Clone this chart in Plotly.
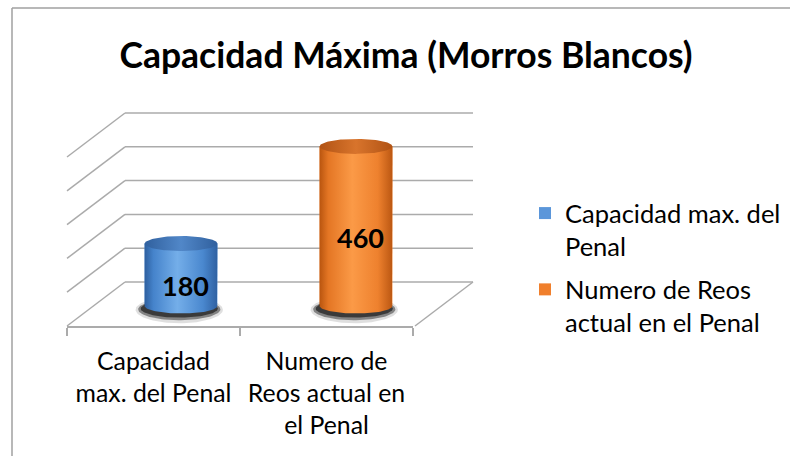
import numpy as np
import plotly.graph_objects as go

# ---------------- data ----------------
categories = ["Capacidad max. del Penal", "Numero de Reos actual en el Penal"]
axis_labels = ["Capacidad<br>max. del Penal", "Numero de<br>Reos actual en<br>el Penal"]
legend_names = ["Capacidad max. del<br>Penal", "Numero de Reos<br>actual en el Penal"]
values = [180, 460]
grid_ticks = [0, 100, 200, 300, 400, 500]
title_text = "Capacidad Máxima (Morros Blancos)"

# ---------------- style ----------------
FONT = "Lato"
W, H = 790, 456
GRID = "#ababab"
body_scales = [
    [[0, "#2d5f9f"], [0.12, "#4583cb"], [0.45, "#74aee9"], [0.8, "#4a88cf"], [1, "#2f61a2"]],
    [[0, "#b9550f"], [0.12, "#e47624"], [0.45, "#fb9a47"], [0.8, "#ee812e"], [1, "#bb5712"]],
]
top_scales = [
    [[0, "#30609e"], [0.5, "#5187c8"], [1, "#30609e"]],
    [[0, "#b15314"], [0.5, "#d8742c"], [1, "#b15314"]],
]
legend_colors = ["#5b96da", "#f07f2c"]

# geometry (pixel-based layout of the pseudo 3-D frame)
wall_left, wall_right = 125, 473          # px
wall_bottom, wall_top = 282, 113          # px for 0 and 500
wall_px_per_unit = (wall_bottom - wall_top) / 500
depth_dx = -58 / (wall_right - wall_left)  # in wall-width fraction
depth_dy = -44 / wall_px_per_unit          # in value units
wx_range = [depth_dx - 0.02, 1.02]
wy_range = [depth_dy - 6, 506]
wall_x = (
    (wall_left + wx_range[0] * (wall_right - wall_left)) / W,
    (wall_left + wx_range[1] * (wall_right - wall_left)) / W,
)
wall_y = (
    1 - (wall_bottom - wy_range[0] * wall_px_per_unit) / H,
    1 - (wall_bottom - wy_range[1] * wall_px_per_unit) / H,
)
front_x = (67 / W, 413 / W)
front_y = 1 - 326 / H
bar_x = (93.5 / W, 443.5 / W)
bar_px_per_unit = 0.347
bar_range = [-60, 500]
bar_y = (1 - (306 + 60 * bar_px_per_unit) / H, 1 - (306 - 500 * bar_px_per_unit) / H)
half_w = 0.208                        # cylinder radius in category units
ry = 7.5 / bar_px_per_unit            # ellipse vertical radius in value units

fig = go.Figure()

# wall grid subplot (xy) - dummy trace
fig.add_trace(go.Scatter(x=[0, 1], y=[0, 0], mode="none", showlegend=False,
                         hoverinfo="skip", xaxis="x", yaxis="y"))
# category axis subplot (x2y2) - dummy trace
fig.add_trace(go.Scatter(x=axis_labels, y=[0, 0], mode="none", showlegend=False,
                         hoverinfo="skip", xaxis="x2", yaxis="y2"))

# bars (legend entries) on x3y3
for i, v in enumerate(values):
    fig.add_trace(go.Bar(x=[i], y=[v], width=2 * half_w, name=legend_names[i],
                         legendgroup=f"g{i}",
                         marker=dict(color=legend_colors[i], line=dict(width=0)),
                         hoverinfo="skip", xaxis="x3", yaxis="y3"))

t = np.linspace(0, 2 * np.pi, 120)
# shadows
for i, v in enumerate(values):
    c = i
    for sx, sy, dy, a in [(1.2, 1.8, -0.5, 0.15), (1.13, 1.45, -0.45, 0.5), (1.06, 1.2, -0.35, 0.8)]:
        fig.add_trace(go.Scatter(
            x=c - 0.01 + half_w * sx * np.cos(t), y=ry * dy + ry * sy * np.sin(t),
            mode="lines", line=dict(width=0), fill="toself",
            fillcolor=f"rgba(40,40,40,{a})", showlegend=False, hoverinfo="skip",
            xaxis="x3", yaxis="y3"))
# bodies
for i, v in enumerate(values):
    c = i
    tb = np.linspace(0, -np.pi, 60)
    xs = [c - half_w, c - half_w, c + half_w, c + half_w] + list(c + half_w * np.cos(tb))
    ys = [0, v, v, 0] + list(ry * np.sin(tb))
    fig.add_trace(go.Scatter(
        x=xs, y=ys, mode="lines", line=dict(width=0), fill="toself",
        fillgradient=dict(type="horizontal", colorscale=body_scales[i]),
        showlegend=False, hoverinfo="skip", xaxis="x3", yaxis="y3"))
# tops
for i, v in enumerate(values):
    c = i
    fig.add_trace(go.Scatter(
        x=c + half_w * np.cos(t), y=v + ry * np.sin(t), mode="lines",
        line=dict(width=0), fill="toself",
        fillgradient=dict(type="horizontal", colorscale=top_scales[i]),
        showlegend=False, hoverinfo="skip", xaxis="x3", yaxis="y3"))

# wall gridlines + pseudo-3D depth lines
shapes = []
for g in grid_ticks:
    shapes.append(dict(type="line", xref="x", yref="y", x0=0, x1=1,
                       y0=g, y1=g, line=dict(color=GRID, width=1.5), layer="below"))
    shapes.append(dict(type="line", xref="x", yref="y", x0=0, x1=depth_dx,
                       y0=g, y1=g + depth_dy, line=dict(color=GRID, width=1.5), layer="below"))
shapes.append(dict(type="line", xref="x", yref="y", x0=1, x1=1 + depth_dx,
                   y0=grid_ticks[0], y1=grid_ticks[0] + depth_dy,
                   line=dict(color=GRID, width=1.5), layer="below"))
# chart border
shapes.append(dict(type="line", xref="paper", yref="paper", x0=12 / W, x1=1.01,
                   y0=1 - 8 / H, y1=1 - 8 / H, line=dict(color="#a0a0a0", width=1.5)))
shapes.append(dict(type="line", xref="paper", yref="paper", x0=12 / W, x1=12 / W,
                   y0=1 - 8 / H, y1=-0.01, line=dict(color="#a0a0a0", width=1.5)))

annotations = []
for i, v in enumerate(values):
    annotations.append(dict(x=i, y=v / 2, xref="x3", yref="y3", text=f"<b>{v}</b>",
                            showarrow=False, yshift=-11, xshift=4,
                            font=dict(family=FONT, size=27, color="black")))

fig.update_layout(
    width=W, height=H, autosize=False,
    margin=dict(l=0, r=0, t=0, b=0),
    paper_bgcolor="white", plot_bgcolor="rgba(0,0,0,0)",
    barmode="overlay",
    title=dict(text=f"<b>{title_text}</b>", x=406 / W, xanchor="center",
               y=1 - 56 / H, yanchor="middle",
               font=dict(family=FONT, size=35.5, color="black")),
    xaxis=dict(domain=list(wall_x), range=wx_range, visible=False, anchor="y"),
    yaxis=dict(domain=list(wall_y), range=wy_range, visible=False, anchor="x"),
    xaxis2=dict(domain=list(front_x), type="category", range=[-0.5, 1.5],
                categoryorder="array", categoryarray=axis_labels,
                showline=True, linecolor=GRID, linewidth=1.5,
                ticks="outside", tickson="boundaries", ticklen=8,
                tickcolor=GRID, tickwidth=1.5, showgrid=False, ticklabelstandoff=12,
                tickfont=dict(family=FONT, size=24.8, color="black"), anchor="y2"),
    yaxis2=dict(domain=[front_y, front_y + 0.1], visible=False, anchor="x2"),
    xaxis3=dict(domain=list(bar_x), range=[-0.5, 1.5], visible=False, anchor="y3"),
    yaxis3=dict(domain=list(bar_y), range=bar_range, visible=False, anchor="x3"),
    legend=dict(x=525 / W, xanchor="left", y=1 - 190 / H, yanchor="top",
                font=dict(family=FONT, size=25.5, color="black"), valign="top",
                bgcolor="rgba(0,0,0,0)", traceorder="grouped", tracegroupgap=7),
    shapes=shapes, annotations=annotations,
    showlegend=True,
)

fig.write_html("out.html", post_script="document.body.style.margin='0';",
               config={"displayModeBar": False})
